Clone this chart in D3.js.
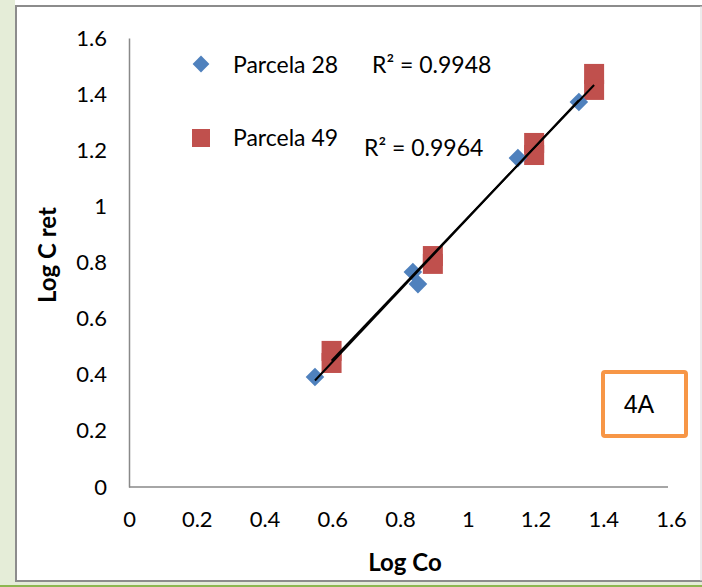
<!DOCTYPE html>
<html>
<head>
<meta charset="utf-8">
<script src="https://cdn.jsdelivr.net/npm/d3@7"></script>
<style>
  body { margin: 0; background: #fff; }
  svg { display: block; }
</style>
</head>
<body>
<script>
// data (Log Co vs Log C ret)
var p28X = [0.549, 0.838, 0.853, 1.148, 1.328];
var p28Y = [0.392, 0.766, 0.723, 1.172, 1.372];
var p49X = [0.598, 0.598, 0.897, 0.897, 1.196, 1.196, 1.373, 1.373];
var p49Y = [0.485, 0.442, 0.823, 0.795, 1.226, 1.183, 1.472, 1.415];
var seriesNames = ["Parcela 28", "Parcela 49"];
var r2Labels = ["R\u00B2 = 0.9948", "R\u00B2 = 0.9964"];
var tickValues = [0, 0.2, 0.4, 0.6, 0.8, 1, 1.2, 1.4, 1.6];
var panelLabel = "4A";

var width = 702;
var height = 587;

var svg = d3.select("body")
  .append("svg")
  .attr("width", width)
  .attr("height", height);

// page background pieces
svg.append("rect").attr("x", 0).attr("y", 0).attr("width", 15).attr("height", height)
  .attr("fill", "#e5edd8");
svg.append("rect").attr("x", 15).attr("y", 582).attr("width", width - 15).attr("height", 3)
  .attr("fill", "#e5edd8");
svg.append("line").attr("x1", 0).attr("x2", width).attr("y1", 586).attr("y2", 586)
  .attr("stroke", "#8db650").attr("stroke-width", 2);
svg.append("path")
  .attr("d", "M16,582 V6 H702")
  .attr("fill", "none").attr("stroke", "#8c8c8c").attr("stroke-width", 2);
svg.append("line").attr("x1", 16).attr("x2", width).attr("y1", 581).attr("y2", 581)
  .attr("stroke", "#8c8c8c").attr("stroke-width", 2);
svg.append("line").attr("x1", 701).attr("x2", 701).attr("y1", 6).attr("y2", 581)
  .attr("stroke", "#d9d9d9").attr("stroke-width", 1);

var xScale = d3.scaleLinear().domain([0, 1.6]).range([129, 671]);
var yScale = d3.scaleLinear().domain([0, 1.6]).range([487, 38]);

var font = "Lato, 'Open Sans', sans-serif";

var xAxis = svg.append("g")
  .attr("transform", "translate(0," + yScale(0) + ")")
  .call(d3.axisBottom(xScale).tickValues(tickValues).tickSize(0).tickPadding(24)
    .tickFormat(function(d) { return d3.format("")(d); }));
xAxis.select(".domain").attr("stroke", "#898989").attr("stroke-width", 1.5)
  .attr("d", "M" + xScale(0) + ",0H668");
xAxis.selectAll("text").attr("font-family", font).attr("font-size", "22px").attr("fill", "#000");

var yAxis = svg.append("g")
  .attr("transform", "translate(" + xScale(0) + ",0)")
  .call(d3.axisLeft(yScale).tickValues(tickValues).tickSize(0).tickPadding(22)
    .tickFormat(function(d) { return d3.format("")(d); }));
yAxis.select(".domain").attr("stroke", "#898989").attr("stroke-width", 1.5);
yAxis.selectAll("text").attr("font-family", font).attr("font-size", "22px").attr("fill", "#000");

// axis titles
svg.append("text")
  .attr("x", 405).attr("y", 571)
  .attr("text-anchor", "middle")
  .attr("font-family", font).attr("font-weight", "bold").attr("font-size", "24px")
  .text("Log Co");
svg.append("text")
  .attr("transform", "translate(56,255) rotate(-90)")
  .attr("text-anchor", "middle")
  .attr("font-family", font).attr("font-weight", "bold").attr("font-size", "24px")
  .text("Log C ret");

// linear trendlines (least squares)
function fit(xs, ys) {
  var mx = d3.mean(xs), my = d3.mean(ys);
  var sxy = d3.sum(xs, function(x, i) { return (x - mx) * (ys[i] - my); });
  var sxx = d3.sum(xs, function(x) { return (x - mx) * (x - mx); });
  var b = sxy / sxx;
  var a = my - b * mx;
  var ext = d3.extent(xs);
  return [[ext[0], a + b * ext[0]], [ext[1], a + b * ext[1]]];
}

// points
var diamond = d3.symbol().type(d3.symbolDiamond2).size(220);
var legendDiamond = d3.symbol().type(d3.symbolDiamond2).size(180);

svg.selectAll("rect.p49")
  .data(p49X)
  .enter()
  .append("rect")
  .attr("class", "p49")
  .attr("x", function(d) { return xScale(d) - 10; })
  .attr("y", function(d, i) { return yScale(p49Y[i]) - 10; })
  .attr("width", 20)
  .attr("height", 20)
  .attr("fill", "#c0504d");

svg.selectAll("path.p28")
  .data(p28X)
  .enter()
  .append("path")
  .attr("class", "p28")
  .attr("d", diamond)
  .attr("transform", function(d, i) {
    return "translate(" + xScale(d) + "," + yScale(p28Y[i]) + ")";
  })
  .attr("fill", "#4f81bd");

var lines = [fit(p28X, p28Y), fit(p49X, p49Y)];
svg.selectAll("line.trend")
  .data(lines)
  .enter()
  .append("line")
  .attr("class", "trend")
  .attr("x1", function(d) { return xScale(d[0][0]); })
  .attr("y1", function(d) { return yScale(d[0][1]); })
  .attr("x2", function(d) { return xScale(d[1][0]); })
  .attr("y2", function(d) { return yScale(d[1][1]); })
  .attr("stroke", "#000")
  .attr("stroke-width", 2);

// legend
svg.append("path")
  .attr("d", legendDiamond)
  .attr("transform", "translate(201,64)")
  .attr("fill", "#4f81bd");
svg.append("rect")
  .attr("x", 192).attr("y", 129).attr("width", 18).attr("height", 18)
  .attr("fill", "#c0504d");

svg.selectAll("text.legend")
  .data(seriesNames)
  .enter()
  .append("text")
  .attr("class", "legend")
  .attr("x", 233)
  .attr("y", function(d, i) { return i === 0 ? 73 : 146; })
  .attr("font-family", font).attr("font-size", "23px")
  .text(function(d) { return d; });

svg.selectAll("text.r2")
  .data(r2Labels)
  .enter()
  .append("text")
  .attr("class", "r2")
  .attr("x", function(d, i) { return i === 0 ? 372 : 364; })
  .attr("y", function(d, i) { return i === 0 ? 73 : 156; })
  .attr("font-family", font).attr("font-size", "23px")
  .text(function(d) { return d; });

// panel label box
svg.append("rect")
  .attr("x", 603).attr("y", 372).attr("width", 83).attr("height", 64)
  .attr("rx", 2)
  .attr("fill", "#fff").attr("stroke", "#f79646").attr("stroke-width", 4);
svg.append("text")
  .attr("x", 639).attr("y", 413)
  .attr("text-anchor", "middle")
  .attr("font-family", "'Liberation Sans', Arial, sans-serif").attr("font-size", "25px")
  .text(panelLabel);
</script>
</body>
</html>
